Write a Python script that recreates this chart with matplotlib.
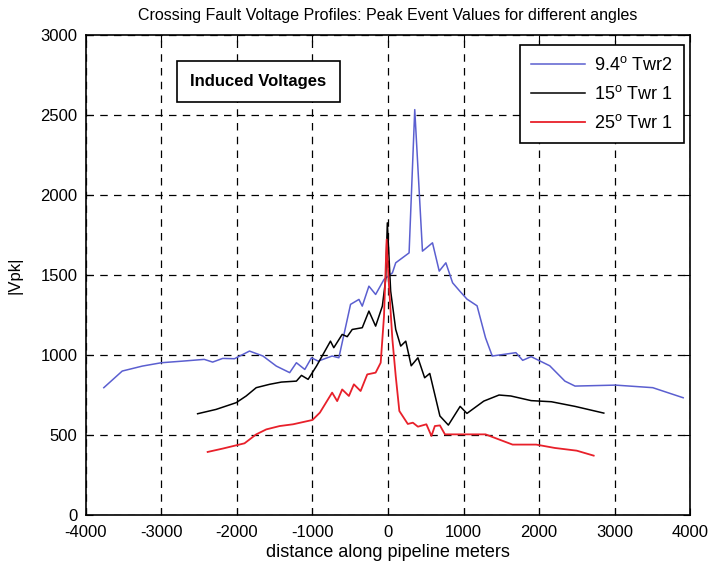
import matplotlib.pyplot as plt
import numpy as np

# Peak event voltages along the pipeline for three fault angles
plt.rcParams['font.family'] = ['Liberation Sans', 'DejaVu Sans']
plt.rcParams['axes.unicode_minus'] = False

x_blue = [-3763, -3519, -3253, -3000, -2721, -2433, -2322, -2189, -2033, -1834,
          -1656, -1479, -1302, -1213, -1102, -1013, -925, -740, -651, -496,
          -385, -341, -253, -164, -53, 58, 102, 279, 354, 456,
          589, 678, 766, 855, 950, 1045, 1179, 1291, 1380, 1693,
          1783, 1895, 2141, 2342, 2476, 3013, 3505, 3908]
y_blue = [796, 900, 931, 952, 962, 973, 956, 979, 977, 1025,
          994, 931, 890, 952, 910, 983, 962, 994, 983, 1317,
          1348, 1306, 1431, 1379, 1473, 1514, 1577, 1639, 2535, 1650,
          1702, 1525, 1577, 1452, 1400, 1350, 1308, 1108, 994, 1015,
          967, 990, 933, 837, 806, 812, 796, 733]

x_black = [-2521, -2277, -2011, -1878, -1745, -1568, -1412, -1213, -1146, -1058,
           -947, -762, -718, -607, -540, -474, -341, -253, -164, -75,
           -31, -9, 35, 102, 168, 235, 307, 396, 485, 553,
           687, 799, 955, 1045, 1268, 1470, 1626, 1895, 2163, 2476, 2857]
y_black = [633, 660, 702, 744, 796, 817, 831, 837, 873, 848,
           931, 1087, 1046, 1129, 1115, 1160, 1171, 1275, 1181, 1306,
           1473, 1827, 1400, 1160, 1056, 1087, 933, 983, 858, 885,
           619, 562, 679, 635, 712, 750, 744, 715, 708, 679, 637]

x_red = [-2388, -2189, -1900, -1745, -1612, -1435, -1257, -1000, -902, -740,
         -673, -607, -518, -452, -363, -275, -164, -97, -53, -18,
         4, 58, 102, 150, 262, 329, 396, 508, 575, 620,
         687, 754, 1291, 1649, 1962, 2208, 2499, 2723]
y_red = [394, 415, 448, 504, 535, 556, 567, 594, 640, 765,
         712, 785, 744, 817, 775, 879, 890, 952, 1244, 1723,
         1500, 1098, 869, 650, 569, 577, 552, 567, 494, 556,
         560, 504, 504, 440, 440, 419, 402, 371]

labels = [r'9.4$^\mathregular{o}$ Twr2', r'15$^\mathregular{o}$ Twr 1', r'25$^\mathregular{o}$ Twr 1']

fig = plt.figure(figsize=(7.1, 5.69), dpi=100)
ax = fig.add_axes([0.121, 0.095, 0.851, 0.843])

ax.plot(x_blue, y_blue, color='#5b5fd0', linewidth=1.1, label=labels[0])
ax.plot(x_black, y_black, color='black', linewidth=1.1, label=labels[1])
ax.plot(x_red, y_red, color='#e8202a', linewidth=1.3, label=labels[2])

ax.set_xlim(-4000, 4000)
ax.set_ylim(0, 3000)
ax.set_xticks(np.arange(-4000, 4001, 1000))
ax.set_yticks(np.arange(0, 3001, 500))
ax.grid(True, color='black', linestyle=(0, (6, 5)), linewidth=0.9)
ax.tick_params(direction='in', top=True, right=True, labelsize=12, length=5)
ax.tick_params(axis='x', pad=7)
ax.tick_params(axis='y', pad=6)
for s in ax.spines.values():
    s.set_linewidth(1.2)

ax.set_title('Crossing Fault Voltage Profiles: Peak Event Values for different angles', fontsize=11.5, pad=11)
ax.set_xlabel('distance along pipeline meters', fontsize=13, labelpad=3)
ax.set_ylabel('|Vpk|', fontsize=12, labelpad=13)

leg = ax.legend(loc='upper right', fontsize=13, fancybox=False, framealpha=1,
                edgecolor='black', handlelength=3.0, borderpad=0.6, labelspacing=0.6,
                handletextpad=0.5, borderaxespad=0, bbox_to_anchor=(0.99, 0.979))
leg.get_frame().set_linewidth(1.2)

ax.text(-1720, 2710, 'Induced Voltages', fontsize=12, fontweight='bold', ha='center', va='center',
        bbox=dict(boxstyle='square,pad=0.8', facecolor='white', edgecolor='black', linewidth=1.2))

plt.savefig('out.png')
